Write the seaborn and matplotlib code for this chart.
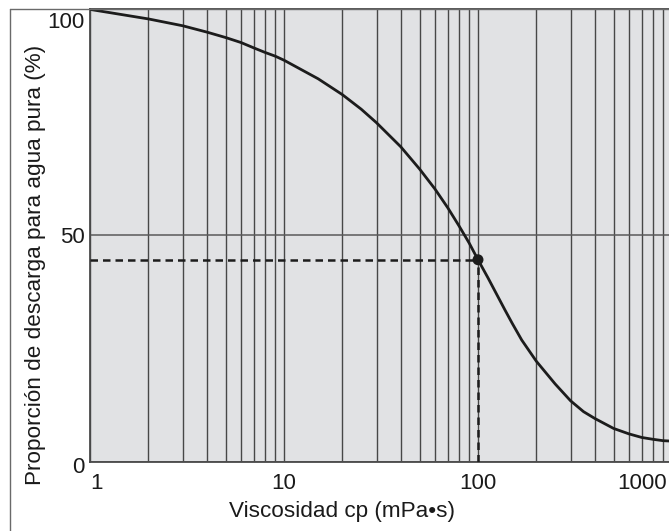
import numpy as np
import pandas as pd
import seaborn as sns
import matplotlib
matplotlib.use("Agg")
import matplotlib.pyplot as plt
from matplotlib.lines import Line2D
from matplotlib.ticker import FixedLocator, NullFormatter
import matplotlib.transforms as mtransforms

# ---- data ----
viscosity = [1, 2, 3, 4, 5, 6, 7, 8, 9, 10, 15, 20, 25, 30, 40, 50, 60, 70, 80, 90,
             100, 112.6, 137.8, 150, 168, 200, 250, 300, 350, 400, 500, 600, 700,
             800, 900, 1000]
discharge_ratio = [99.8, 97.7, 96.2, 94.8, 93.6, 92.5, 91.3, 90.3, 89.5, 88.6,
                   84.5, 81.0, 77.8, 74.8, 69.5, 64.6, 60.2, 56.0, 52.0, 48.3,
                   44.6, 40.6, 33.5, 30.6, 26.9, 22.2, 17.2, 13.5, 11.1, 9.6,
                   7.4, 6.2, 5.4, 5.0, 4.7, 4.6]
marked_viscosity = 100
marked_ratio = 44.6
x_ticks = [1, 10, 100, 1000]
x_tick_labels = ["1", "10", "100", "1000"]
y_ticks = [0, 50, 100]
y_tick_labels = ["0", "50", "100"]
x_label = "Viscosidad cp (mPa•s)"
y_label = "Proporción de descarga para agua pura (%)"

df = pd.DataFrame({"visc": viscosity, "ratio": discharge_ratio})

sns.set_style("white")
plt.rcParams["font.family"] = ["Liberation Sans", "DejaVu Sans"]

W, H = 669, 531
fig = plt.figure(figsize=(W / 100, H / 100), dpi=100)
ax_left, ax_right, ax_top, ax_bottom = 90, 672, 8.5, 462
ax_w, ax_h = ax_right - ax_left, ax_bottom - ax_top
ax = fig.add_axes([ax_left / W, (H - ax_bottom) / H, ax_w / W, ax_h / H])
ax.set_facecolor("#e1e2e4")
ax.set_xscale("log")
ax.set_xlim(1, 1000)
ax.set_ylim(0, 100)

# grid: vertical lines at every log subdivision, horizontal at 50
minor = [m * 10 ** k for k in range(0, 3) for m in range(2, 10)]
ax.xaxis.set_minor_locator(FixedLocator(minor))
ax.xaxis.set_minor_formatter(NullFormatter())
ax.set_xticks(x_ticks)
ax.set_yticks(y_ticks)
ax.grid(True, which="both", axis="x", color="#474747", lw=1.0)
ax.grid(True, which="major", axis="y", color="#5a5a5a", lw=1.1)
ax.set_axisbelow(True)
ax.tick_params(which="both", length=0)

xl = ax.set_xticklabels(x_tick_labels, fontsize=16, color="#1a1a1a")
yl = ax.set_yticklabels(y_tick_labels, fontsize=16, color="#1a1a1a")
ax.tick_params(axis="x", pad=8)
ax.tick_params(axis="y", pad=4)
xl[0].set_ha("left")
xl[-1].set_ha("right")
xl[-1].set_transform(xl[-1].get_transform() +
                     mtransforms.ScaledTranslation(-5 / 100, 0, fig.dpi_scale_trans))
yl[-1].set_va("top")
yl[-1].set_transform(yl[-1].get_transform() +
                     mtransforms.ScaledTranslation(0, -4 / 100, fig.dpi_scale_trans))
yl[0].set_transform(yl[0].get_transform() +
                    mtransforms.ScaledTranslation(0, -3 / 100, fig.dpi_scale_trans))

for s in ["left", "bottom", "top", "right"]:
    ax.spines[s].set_color("#4a4a4a")
    ax.spines[s].set_linewidth(1.3)

# curve
sns.lineplot(data=df, x="visc", y="ratio", ax=ax, color="#1c1c1c", lw=2.0,
             zorder=5, sort=True, solid_joinstyle="round", solid_capstyle="round")

# dashed guides and point
ax.plot([viscosity[0], marked_viscosity], [marked_ratio, marked_ratio],
        ls=(0, (3.0, 2.0)), color="#1c1c1c", lw=1.8, zorder=4)
ax.plot([marked_viscosity, marked_viscosity], [0, marked_ratio],
        ls=(0, (3.0, 2.0)), color="#1c1c1c", lw=1.8, zorder=4)
sns.scatterplot(x=[marked_viscosity], y=[marked_ratio], ax=ax, s=62,
                color="#1c1c1c", edgecolor="none", zorder=6, legend=False)

ax.set_xlabel(x_label, fontsize=16.2, color="#1a1a1a")
ax.set_ylabel(y_label, fontsize=16.2, color="#1a1a1a")
ax.xaxis.label.set_va("center")
ax.yaxis.label.set_va("center")
ax.xaxis.set_label_coords((342 - ax_left) / ax_w, (ax_bottom - 512) / ax_h)
ax.yaxis.set_label_coords((36 - ax_left) / ax_w, (ax_bottom - 265) / ax_h)

# outer frame of the figure
fx = 10 / W
fy = (H - 8.5) / H
fig.add_artist(Line2D([fx, fx], [0, fy], transform=fig.transFigure,
                      color="#6a6a6a", lw=1.0))
fig.add_artist(Line2D([fx, 1], [fy, fy], transform=fig.transFigure,
                      color="#6a6a6a", lw=1.0))

fig.savefig("out.png", dpi=100)
